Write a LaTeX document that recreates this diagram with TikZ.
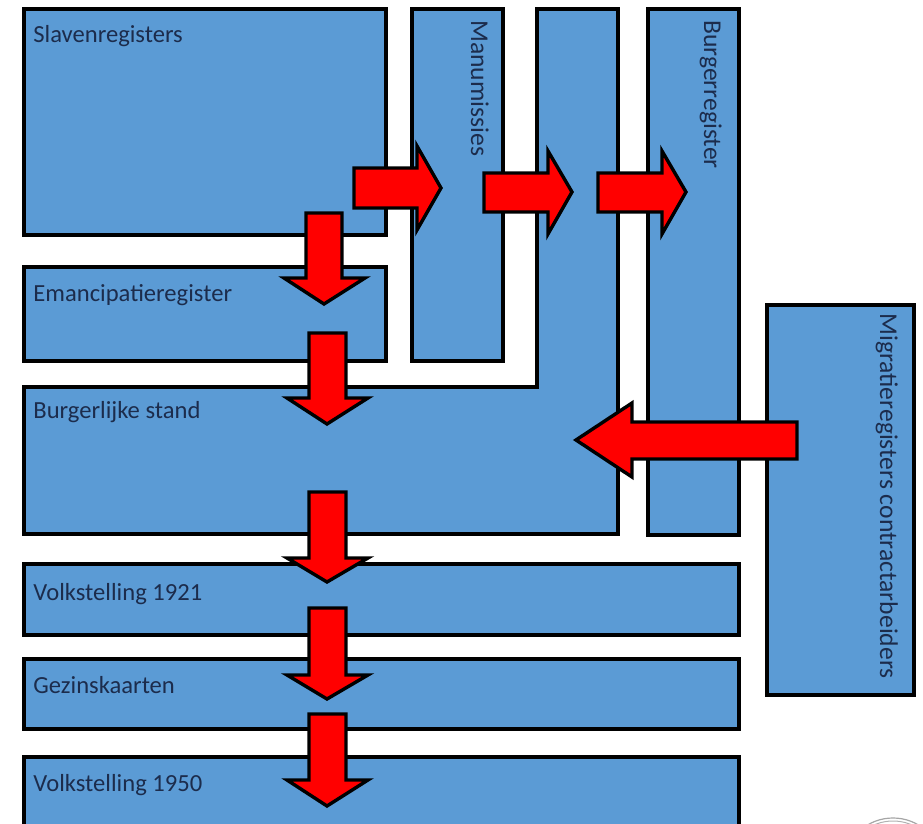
\documentclass[tikz,border=0pt]{standalone}
\usepackage{fontspec}
\setmainfont{Carlito}
\definecolor{boxblue}{HTML}{5B9BD5}
\definecolor{boxtext}{HTML}{1C2C4C}
\definecolor{arrowred}{HTML}{FF0000}
\begin{document}
\begin{tikzpicture}[x=0.5pt,y=-0.5pt,
  regbox/.style={draw=black,line width=2.1pt,fill=boxblue,line join=miter},
  redarrow/.style={draw=black,line width=1.7pt,fill=arrowred,line join=miter},
  label/.style={anchor=base west,inner sep=0pt,text=boxtext,font=\fontsize{12.3}{14}\selectfont},
  sidelabel/.style={label,rotate=-90,font=\fontsize{12.8}{14}\selectfont}]
\clip (0,0) rectangle (923,824);

\draw[regbox] (24,9) rectangle (386,235);
\draw[regbox] (24,267) rectangle (386,361);
\draw[regbox] (412,9) rectangle (503,361);
\draw[regbox] (24,387) -- (537,387) -- (537,9) -- (618,9) -- (618,534) -- (24,534) -- cycle;
\draw[regbox] (648,9) rectangle (739,535);
\draw[regbox] (767,305) rectangle (914,695);
\draw[regbox] (24,564) rectangle (739,635);
\draw[regbox] (24,659) rectangle (739,729);
\draw[regbox] (24,757) rectangle (739,840);

\node[label] (slaven) at (33,43) {Slavenregisters};
\node[label] (emancipatie) at (33,302) {Emancipatieregister};
\node[label] (burgerlijk) at (33,419) {Burgerlijke stand};
\node[label] (volk21) at (33,600) {Volkstelling 1921};
\node[label] (gezin) at (33,693) {Gezinskaarten};
\node[label] (volk50) at (33,791) {Volkstelling 1950};
\node[sidelabel] (manum) at (471,20) {Manumissies};
\node[sidelabel] (burgerreg) at (704,20) {Burgerregister};
\node[sidelabel] (migratie) at (880,313) {Migratieregisters contractarbeiders};

\draw[redarrow] (354,168) -- (417,168) -- (417,146) -- (441,188) -- (417,230) -- (417,208) -- (354,208) -- cycle;
\draw[redarrow] (484,173) -- (548,173) -- (548,151) -- (572,192) -- (548,234) -- (548,212) -- (484,212) -- cycle;
\draw[redarrow] (598,173) -- (662,173) -- (662,151) -- (686,192) -- (662,234) -- (662,212) -- (598,212) -- cycle;

\draw[redarrow] (306,213) -- (342,213) -- (342,278) -- (365,278) -- (324,304) -- (284,278) -- (306,278) -- cycle;
\draw[redarrow] (309,333) -- (346,333) -- (346,398) -- (368,398) -- (327,424) -- (287,398) -- (309,398) -- cycle;
\draw[redarrow] (309,492) -- (346,492) -- (346,558) -- (368,558) -- (327,582) -- (287,558) -- (309,558) -- cycle;
\draw[redarrow] (309,608) -- (346,608) -- (346,675) -- (368,675) -- (327,699) -- (287,675) -- (309,675) -- cycle;
\draw[redarrow] (309,714) -- (346,714) -- (346,780) -- (368,780) -- (327,806) -- (287,780) -- (309,780) -- cycle;

\draw[redarrow] (797,422) -- (632,422) -- (632,403) -- (576,440) -- (632,477) -- (632,459) -- (797,459) -- cycle;

\draw[gray!70,line width=0.6pt] (893,858) ellipse (45 and 40);
\draw[gray!60,line width=0.5pt] (893,858) ellipse (42 and 37);
\end{tikzpicture}
\end{document}
